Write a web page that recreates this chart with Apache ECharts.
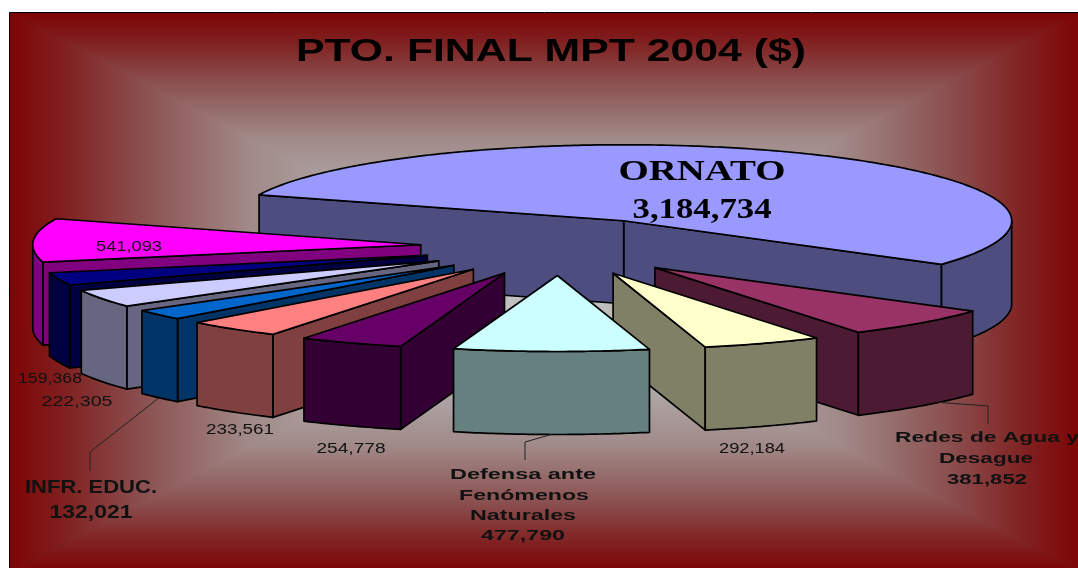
<!DOCTYPE html>
<html><head><meta charset="utf-8">
<style>html,body{margin:0;padding:0;background:#fff}#c{width:1078px;height:568px}</style>
<script src="https://cdn.jsdelivr.net/npm/echarts@6/dist/echarts.min.js"></script>
</head><body><div id="c"></div>
<script>
// Only four slices carry a name in the picture; the others are shown by value alone.
const categories = ['ORNATO','Redes de Agua y Desague','','Defensa ante Fenómenos Naturales','','','INFR. EDUC.','','',''];
const values = [3184734,381852,292184,477790,254778,233561,132021,222305,159368,541093];
const topColors = ['#9999FF','#993366','#FFFFCC','#CCFFFF','#660066','#FF8080','#0066CC','#CCCCFF','#000080','#FF00FF'];
const wallColors = ['#4D4D80','#4D1A33','#808066','#668080','#330033','#804040','#003366','#666680','#000040','#800080'];

// projection of the tilted pie
const startAngle=-70, RX=388, RY=76, DEPTH=83, CX=559.5, CY=246.5, EX=139, EY=29;
const total=values.reduce((a,b)=>a+b,0);
const rad=d=>d*Math.PI/180;
let acc=startAngle;
const slices=values.map(v=>{const a0=acc;acc+=v/total*360;return {a0,a1:acc,m:(a0+acc)/2};});
const apexOf=s=>[CX+EX*Math.sin(rad(s.m)),CY-EY*Math.cos(rad(s.m))];
const rimPt=(ap,d,dz)=>[ap[0]+RX*Math.sin(rad(d)),ap[1]-RY*Math.cos(rad(d))+(dz||0)];
const arc=(ap,a,b,dz)=>{const pts=[];const n=Math.max(2,Math.ceil(Math.abs(b-a)*1.5));for(let i=0;i<=n;i++)pts.push(rimPt(ap,a+(b-a)*i/n,dz));return pts;};
const norm=d=>((d%360)+360)%360;

function poly(points,fill,z2){return {type:'polygon',z2,shape:{points},style:{fill,stroke:'#000',lineWidth:1.7,lineJoin:'round'}};}

const leaders={6:{f:0.5,pts:[[90,452],[90,471]]},3:{f:0.5,pts:[[525,442],[525,460]]},1:{f:0.34,pts:[[988,406],[988,424]]}};

function renderItem(params,api){
  const i=params.dataIndex; api.value(0);
  const s=slices[i], ap=apexOf(s), fill=topColors[i], wall=wallColors[i];
  const base=(180-Math.abs(norm(s.m)-180))*10;
  const kids=[];
  const wallFor=d=>{const r=rimPt(ap,d);return poly([ap,r,[r[0],r[1]+DEPTH],[ap[0],ap[1]+DEPTH]],wall,base+1);};
  if(Math.sin(rad(s.a1))>0) kids.push(wallFor(s.a1));
  if(Math.sin(rad(s.a0))<0) kids.push(wallFor(s.a0));
  const lo=Math.max(s.a0,90), hi=Math.min(s.a1,270);
  if(hi>lo){
    const top=arc(ap,lo,hi,0), bot=arc(ap,hi,lo,DEPTH);
    kids.push(poly(top.concat(bot),wall,base+2));
  }
  kids.push(poly([ap].concat(arc(ap,s.a0,s.a1,0)),fill,base+3));
  const L=leaders[i];
  if(L){
    const start=rimPt(ap,s.a0+(s.a1-s.a0)*L.f,DEPTH);
    kids.push({type:'polyline',z2:5000,shape:{points:[start].concat(L.pts)},style:{fill:null,stroke:'#222',lineWidth:1}});
  }
  return {type:'group',children:kids};
}

// background: rectangular gradient from the centre
const F={l:9,t:13,r:1082,b:572}, FC=[545,292];
const stops=[[0,'#7E0404'],[0.1,'#801F1F'],[0.25,'#8B5050'],[0.45,'#A08A88'],[0.65,'#B0A8A8'],[1,'#C6C6C6']].map(a=>({offset:a[0],color:a[1]}));
const grad=(x0,y0,x1,y1)=>new echarts.graphic.LinearGradient(x0,y0,x1,y1,stops);
const tri=(pts,fill)=>({type:'polygon',z:-5,shape:{points:pts},style:{fill}});
const bg=[
  tri([[F.l,F.t],[F.r,F.t],[F.r,FC[1]],[F.l,FC[1]]],grad(0,0,0,1)),
  tri([[F.l,FC[1]],[F.r,FC[1]],[F.r,F.b],[F.l,F.b]],grad(0,1,0,0)),
  tri([[F.l,F.t],FC,[F.l,F.b]],grad(0,0,1,0)),
  tri([[F.r,F.t],FC,[F.r,F.b]],grad(1,0,0,0)),
  {type:'polyline',z:-4,shape:{points:[[F.r,12.5],[9.5,12.5],[9.5,F.b]]},style:{fill:null,stroke:'#000',lineWidth:1}}
];

// labels
const fmt=v=>v.toLocaleString('en-US');
const cv=document.createElement('canvas').getContext('2d');
function label(text,x,y,width,font,fill){
  cv.font=font; const w=cv.measureText(text).width;
  return {type:'text',z:50,x,y:y+1.5,scaleX:width/w,style:{text,font,fill:fill||'#000',align:'center',verticalAlign:'middle'}};
}
const SANS='"Liberation Sans"', SERIF='"Liberation Serif"';
const reg='14.5px '+SANS, bld='bold 15px '+SANS, big='bold 18px '+SANS;
const texts=[
  label('PTO. FINAL MPT 2004 ($)',551,51,510,'bold 32px '+SANS),
  label(categories[0],702,171,167,'bold 30px '+SERIF),
  label(fmt(values[0]),702,209,139,'bold 30px '+SERIF),
  label(fmt(values[9]),129,245,66,reg,'#111'),
  label(fmt(values[8]),50,377,64,reg,'#111'),
  label(fmt(values[7]),77,400,71,reg,'#111'),
  label(fmt(values[5]),240,428,68,reg,'#111'),
  label(fmt(values[4]),351,447,69,reg,'#111'),
  label(fmt(values[2]),752,447,66,reg,'#111'),
  label(categories[6],91,487,132,big,'#111'),
  label(fmt(values[6]),91,512,83,big,'#111'),
  label('Defensa ante',523,473,146,bld,'#111'),
  label('Fenómenos',524,494,130,bld,'#111'),
  label('Naturales',523,514,106,bld,'#111'),
  label(fmt(values[3]),523,534,84,bld,'#111'),
  label('Redes de Agua y',987,436,184,bld,'#111'),
  label('Desague',986,457,94,bld,'#111'),
  label(fmt(values[1]),987,478,80,bld,'#111')
];

const chart=echarts.init(document.getElementById('c'),null,{renderer:'canvas'});
chart.setOption({
  animation:false,
  graphic:{elements:bg.concat(texts)},
  series:[{type:'custom',coordinateSystem:'none',renderItem,silent:true,z:2,
    data:values.map((v,i)=>({name:categories[i],value:[v]}))}]
});
</script></body></html>
